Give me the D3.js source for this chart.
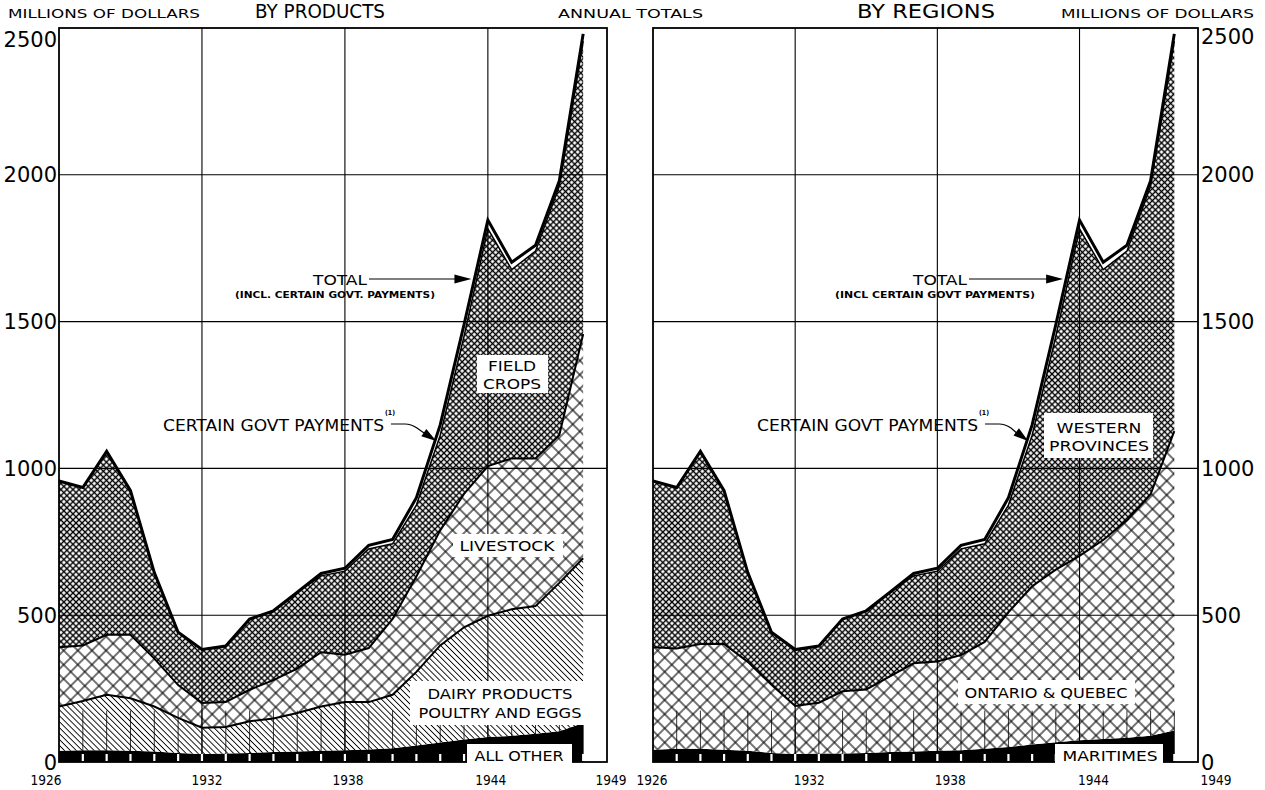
<!DOCTYPE html>
<html><head><meta charset="utf-8">
<script src="https://cdn.jsdelivr.net/npm/d3@7"></script>
<style>body{margin:0;background:#fff} svg{display:block}</style>
</head><body>
<svg id="c" width="1265" height="790"></svg>
<script>
// ---------------- DATA (millions of dollars) ----------------
const years = [1926,1927,1928,1929,1930,1931,1932,1933,1934,1935,1936,1937,1938,1939,1940,1941,1942,1943,1944,1945,1946,1947,1948];
// By products
const allOther        = [38,40,40,38,36,31,27,29,31,34,36,38,40,43,47,56,66,77,85,89,96,105,133];
const dairyPoultryEggs= [151,168,189,179,153,119,90,90,108,114,131,151,164,161,182,251,331,382,413,431,435,505,561];
const livestock       = [202,189,204,216,163,112,84,85,107,131,151,185,161,184,258,325,392,454,510,514,503,504,764];
const fieldCrops      = [566,538,625,491,293,180,182,191,241,236,260,260,285,338,256,243,324,537,808,643,706,848,997];
const govtPayments    = [0,0,0,0,0,0,0,0,0,0,0,8,10,12,15,25,35,40,30,25,20,18,25];
// By regions
const maritimes       = [42,45,45,42,38,31,27,29,29,31,34,36,38,40,45,51,60,67,74,78,83,89,107];
const ontarioQuebec   = [349,342,357,360,303,232,164,173,212,216,258,300,304,324,364,459,539,588,628,678,740,823,1020];
const westernProvinces= [566,548,656,522,304,179,192,193,246,268,286,298,308,362,334,365,514,795,1114,921,917,1050,1328];
// axes
const yTicks = [0,500,1000,1500,2000,2500];
const yGrid = [500,1000,1500,2000];
const xLabelYears = [1926,1932,1938,1944,1949];
const xGridYears = [1932,1938,1944];

// ---------------- SETUP ----------------
const svg = d3.select('#c');
const FONT = "'DejaVu Sans', sans-serif";
const defs = svg.append('defs');

function crossPattern(id, size, sw){
  const p = defs.append('pattern').attr('id',id).attr('patternUnits','userSpaceOnUse')
    .attr('width',size).attr('height',size).attr('patternTransform','rotate(45)');
  p.append('rect').attr('width',size).attr('height',size).attr('fill','#fff');
  p.append('line').attr('x1',0).attr('x2',size).attr('y1',size/2).attr('y2',size/2).attr('stroke','#000').attr('stroke-width',sw);
  p.append('line').attr('y1',0).attr('y2',size).attr('x1',size/2).attr('x2',size/2).attr('stroke','#000').attr('stroke-width',sw);
}
function diagPattern(id, size, sw){
  const p = defs.append('pattern').attr('id',id).attr('patternUnits','userSpaceOnUse')
    .attr('width',size).attr('height',size).attr('patternTransform','rotate(-45)');
  p.append('rect').attr('width',size).attr('height',size).attr('fill','#fff');
  p.append('line').attr('y1',0).attr('y2',size).attr('x1',size/2).attr('x2',size/2).attr('stroke','#000').attr('stroke-width',sw);
}
crossPattern('fine', 4.3, 1.4);
crossPattern('coarse', 10, 1.1);
diagPattern('diag', 4.2, 0.9);

const y = d3.scaleLinear().domain([0,2500]).range([762,28]);

function txt(g, s, x, yy, size, opts={}){
  const t = g.append('text').attr('x',x).attr('y',yy).text(s)
    .attr('font-family',FONT).attr('font-size',size).attr('fill','#000')
    .attr('text-anchor',opts.anchor||'start');
  if(opts.weight) t.attr('font-weight',opts.weight);
  if(opts.w) t.attr('textLength',opts.w).attr('lengthAdjust','spacingAndGlyphs');
  return t;
}
function boxLabel(g, lines, box, size){
  g.append('rect').attr('x',box[0]).attr('y',box[1]).attr('width',box[2]-box[0]).attr('height',box[3]-box[1]).attr('fill','#fff');
  lines.forEach(l => txt(g, l.s, l.x, l.y, size, {anchor:'middle', w:l.w}));
}
function crossX(vals, x, yPix, i0, i1){
  for(let i=i0;i<i1;i++){
    const ya = y(vals[i]), yb = y(vals[i+1]);
    if((ya-yPix)*(yb-yPix) <= 0){
      const t = (ya-yPix)/(ya-yb);
      return x(years[i]) + t*(x(years[i+1])-x(years[i]));
    }
  }
  return x(years[i1]);
}
function arrowHead(g, tipX, tipY, angle, len, half){
  const c = Math.cos(angle), s = Math.sin(angle);
  const bx = tipX - len*c, by = tipY - len*s;
  g.append('path').attr('d', `M${tipX},${tipY} L${bx - half*s},${by + half*c} L${bx + half*s},${by - half*c} Z`).attr('fill','#000');
}

function drawPanel(cfg){
  const g = svg.append('g');
  const x = d3.scaleLinear().domain([1926,1949]).range(cfg.xr);
  const table = years.map((yr,i) => {
    const o = {year:yr};
    cfg.series.forEach(s => o[s.key] = s.values[i]);
    return o;
  });
  const stack = d3.stack().keys(cfg.series.map(s=>s.key))(table);
  const area = d3.area().x(d=>x(d.data.year)).y0(d=>y(d[0])).y1(d=>y(d[1]));
  const line = d3.line().x(d=>x(d.data.year)).y(d=>y(d[1]));

  stack.forEach((layer,i) => {
    g.append('path').datum(layer).attr('d',area).attr('fill',cfg.series[i].fill).attr('stroke','none');
  });

  // grid
  yGrid.forEach(v => g.append('line').attr('x1',cfg.xr[0]).attr('x2',cfg.xr[1]).attr('y1',y(v)).attr('y2',y(v))
    .attr('stroke','#000').attr('stroke-width',1.1));
  xGridYears.forEach(v => g.append('line').attr('x1',x(v)).attr('x2',x(v)).attr('y1',y(0)).attr('y2',y(2500))
    .attr('stroke','#000').attr('stroke-width',1.1));

  // yearly ticks
  years.slice(1).forEach(yr => {
    g.append('line').attr('x1',x(yr)).attr('x2',x(yr)).attr('y1',y(0)).attr('y2',y(175))
      .attr('stroke','#000').attr('stroke-width',0.8);
    g.append('line').attr('x1',x(yr)).attr('x2',x(yr)).attr('y1',y(0)-1).attr('y2',y(0)-8)
      .attr('stroke','#fff').attr('stroke-width',2.2);
  });

  // boundary lines
  cfg.boundaries.forEach(b => {
    g.append('path').datum(stack[b.idx]).attr('d',line).attr('fill','none')
      .attr('stroke','#000').attr('stroke-width',b.w).attr('stroke-linejoin','miter');
  });

  // border
  g.append('rect').attr('x',cfg.xr[0]).attr('y',y(2500)).attr('width',cfg.xr[1]-cfg.xr[0]).attr('height',y(0)-y(2500))
    .attr('fill','none').attr('stroke','#000').attr('stroke-width',1.8);

  // y labels
  yTicks.forEach(v => {
    let yy = y(v) + 7.5;
    if(v===2500) yy = cfg.topLabelY;
    txt(g, String(v), cfg.yLabelX, yy, 21, {anchor:cfg.yAnchor});
  });
  // x labels
  xLabelYears.forEach((v,i) => txt(g, String(v), x(v)+cfg.xLabelDx[i], 785, 13.5, {anchor:'middle', w:31}));

  // labels in chart
  cfg.boxes.forEach(b => boxLabel(g, b.lines, b.box, 14));

  // annotations
  const totals = years.map((yr,i)=>cfg.series.reduce((s,se)=>s+se.values[i],0));
  const belowGovt = years.map((yr,i)=>totals[i]-govtPayments[i]);
  const a = cfg.ann;
  txt(g, 'TOTAL', a.totalX, 285, 14, {w:54});
  txt(g, a.incl, a.inclX, 298, 8, {w:200, weight:'bold'});
  const tipT = crossX(totals, x, 279, 14, 18) - 3;
  g.append('line').attr('x1',a.totalX+56).attr('x2',tipT-12).attr('y1',279).attr('y2',279).attr('stroke','#000').attr('stroke-width',1.2);
  arrowHead(g, tipT, 279, 0, 17, 4.5);

  txt(g, 'CERTAIN GOVT PAYMENTS', a.govtX, 431, 15, {w:221});
  txt(g, '(1)', a.govtX+222, 415, 7, {weight:'bold', w:10});
  const tipG = crossX(belowGovt, x, 441, 14, 18) - 2;
  const sx = a.govtX + 228;
  g.append('path').attr('d',`M${sx},424 L${sx+14},424 Q${sx+20},424 ${sx+26},428 L${tipG-8},436`)
    .attr('fill','none').attr('stroke','#000').attr('stroke-width',1.2);
  arrowHead(g, tipG, 441, Math.atan2(441-428, tipG-(sx+26)), 15, 4.5);
}

const leftX0 = 59, leftX1 = 607, rightX0 = 653, rightX1 = 1198;

drawPanel({
  xr:[leftX0,leftX1],
  series:[
    {key:'allOther', values:allOther, fill:'#000'},
    {key:'dairy', values:dairyPoultryEggs, fill:'url(#diag)'},
    {key:'livestock', values:livestock, fill:'url(#coarse)'},
    {key:'fieldCrops', values:fieldCrops, fill:'url(#fine)'},
    {key:'govt', values:govtPayments, fill:'#fff'}
  ],
  boundaries:[{idx:1,w:2},{idx:2,w:2},{idx:3,w:1.5},{idx:4,w:3}],
  yLabelX:57, yAnchor:'end', topLabelY:47,
  xLabelDx:[-13,5,3,3,4],
  boxes:[
    {box:[477,355,548,393], lines:[{s:'FIELD',x:512,y:371,w:48},{s:'CROPS',x:512,y:389,w:58}]},
    {box:[453,534,563,557], lines:[{s:'LIVESTOCK',x:507,y:551,w:95}]},
    {box:[410,681,588,725], lines:[{s:'DAIRY PRODUCTS',x:500,y:699,w:145},{s:'POULTRY AND EGGS',x:500,y:718,w:163}]},
    {box:[467,744,572,765], lines:[{s:'ALL OTHER',x:519,y:761,w:89}]}
  ],
  ann:{totalX:313, inclX:235, incl:'(INCL. CERTAIN GOVT. PAYMENTS)', govtX:163}
});

drawPanel({
  xr:[rightX0,rightX1],
  series:[
    {key:'maritimes', values:maritimes, fill:'#000'},
    {key:'ontarioQuebec', values:ontarioQuebec, fill:'url(#coarse)'},
    {key:'western', values:westernProvinces, fill:'url(#fine)'},
    {key:'govt', values:govtPayments, fill:'#fff'}
  ],
  boundaries:[{idx:1,w:2},{idx:2,w:1.5},{idx:3,w:3}],
  yLabelX:1201, yAnchor:'start', topLabelY:44,
  xLabelDx:[-1,14,13,14,18],
  boxes:[
    {box:[1044,413,1153,458], lines:[{s:'WESTERN',x:1099,y:433,w:85},{s:'PROVINCES',x:1099,y:451,w:100}]},
    {box:[958,680,1135,704], lines:[{s:'ONTARIO & QUEBEC',x:1046,y:698,w:163}]},
    {box:[1055,744,1163,765], lines:[{s:'MARITIMES',x:1110,y:761,w:95}]}
  ],
  ann:{totalX:913, inclX:835, incl:'(INCL CERTAIN GOVT PAYMENTS)', govtX:757}
});

// titles
txt(svg, 'MILLIONS OF DOLLARS', 8, 18, 11.5, {w:192});
txt(svg, 'BY PRODUCTS', 255, 18, 19, {w:130});
txt(svg, 'ANNUAL TOTALS', 558, 18, 11.5, {w:145});
txt(svg, 'BY REGIONS', 857, 18, 19, {w:138});
txt(svg, 'MILLIONS OF DOLLARS', 1061, 18, 11.5, {w:193});
</script>
</body></html>
